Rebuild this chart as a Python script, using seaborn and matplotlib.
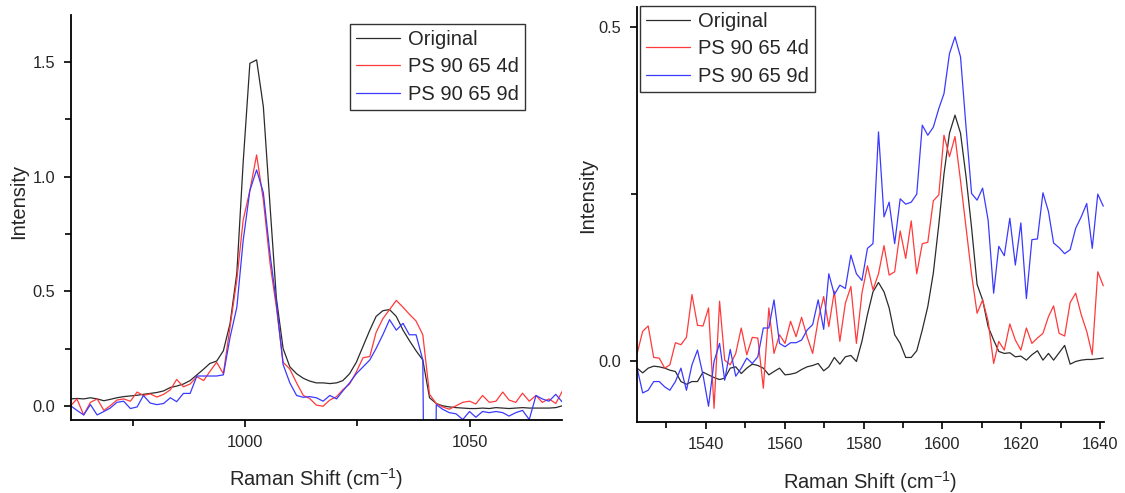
import numpy as np
import pandas as pd
import seaborn as sns
import matplotlib.pyplot as plt
from matplotlib.ticker import MultipleLocator, FormatStrFormatter

# DATA - left panel (ring breathing region)
shift_left = [961.2, 962.6, 964.1, 965.6, 967.1, 968.6, 970.0, 971.5, 973.0, 974.5,
              976.0, 977.4, 978.9, 980.4, 981.9, 983.4, 984.8, 986.3, 987.8, 989.3,
              990.8, 992.2, 993.7, 995.2, 996.7, 998.2, 999.6, 1001.1, 1002.6, 1004.1,
              1005.6, 1007.0, 1008.5, 1010.0, 1011.5, 1013.0, 1014.4, 1015.9, 1017.4, 1018.9,
              1020.4, 1021.8, 1023.3, 1024.8, 1026.3, 1027.8, 1029.2, 1030.7, 1032.2, 1033.7,
              1035.2, 1036.6, 1038.1, 1039.6, 1041.1, 1042.6, 1044.0, 1045.5, 1047.0, 1048.5,
              1050.0, 1051.4, 1052.9, 1054.4, 1055.9, 1057.4, 1058.8, 1060.3, 1061.8, 1063.3,
              1064.8, 1066.2, 1067.7, 1069.2, 1070.7]

orig_left = [0.030, 0.032, 0.030, 0.035, 0.030, 0.022, 0.028, 0.035, 0.040, 0.043,
             0.046, 0.050, 0.054, 0.058, 0.065, 0.080, 0.086, 0.095, 0.110, 0.135,
             0.160, 0.185, 0.195, 0.240, 0.360, 0.580, 1.060, 1.495, 1.510, 1.306,
             0.870, 0.470, 0.250, 0.170, 0.140, 0.120, 0.108, 0.100, 0.100, 0.097,
             0.100, 0.110, 0.140, 0.190, 0.260, 0.330, 0.390, 0.415, 0.420, 0.390,
             0.330, 0.285, 0.240, 0.200, 0.035, 0.010, 0.000, -0.005, -0.008, -0.010,
             -0.012, -0.012, -0.010, -0.012, -0.008, -0.010, -0.012, -0.010, -0.008, -0.010,
             -0.010, -0.010, -0.010, -0.008, 0.000]

ps4d_left = [0.000, 0.030, -0.040, 0.015, 0.030, -0.020, 0.000, 0.025, 0.030, 0.020,
             0.060, 0.045, 0.052, 0.038, 0.050, 0.070, 0.115, 0.083, 0.095, 0.127,
             0.110, 0.150, 0.190, 0.140, 0.346, 0.550, 0.810, 0.940, 1.095, 0.898,
             0.620, 0.430, 0.190, 0.160, 0.100, 0.045, 0.032, 0.003, -0.002, 0.025,
             0.040, 0.070, 0.095, 0.148, 0.210, 0.215, 0.320, 0.380, 0.420, 0.460,
             0.430, 0.400, 0.370, 0.310, 0.050, 0.010, -0.005, -0.015, 0.000, 0.015,
             0.020, 0.008, 0.045, 0.015, 0.020, 0.060, 0.025, 0.015, 0.055, 0.020,
             0.045, 0.015, 0.030, 0.010, 0.065]

ps9d_left = [0.000, -0.020, -0.040, 0.005, -0.040, -0.025, -0.010, 0.015, 0.020, -0.012,
             -0.005, 0.045, 0.012, 0.005, 0.010, 0.035, 0.018, 0.054, 0.054, 0.130,
             0.130, 0.130, 0.130, 0.135, 0.300, 0.430, 0.720, 0.940, 1.030, 0.930,
             0.660, 0.450, 0.180, 0.100, 0.045, 0.037, 0.040, 0.035, 0.020, 0.045,
             0.030, 0.065, 0.100, 0.140, 0.170, 0.200, 0.250, 0.310, 0.376, 0.330,
             0.360, 0.310, 0.310, 0.200, -3.000, 0.005, -0.015, -0.030, -0.035, -0.060,
             -0.025, -0.050, -0.025, -0.030, -0.025, -0.030, -0.045, -0.030, -0.020, -0.060,
             0.045, 0.030, 0.020, 0.050, 0.015]

# DATA - right panel (C=C stretching region)
shift_right = [1522.6, 1524.0, 1525.4, 1526.8, 1528.2, 1529.6, 1530.9, 1532.3, 1533.7, 1535.1,
               1536.5, 1537.9, 1539.3, 1540.7, 1542.1, 1543.5, 1544.8, 1546.2, 1547.6, 1549.0,
               1550.4, 1551.8, 1553.2, 1554.6, 1556.0, 1557.3, 1558.7, 1560.1, 1561.5, 1562.9,
               1564.3, 1565.7, 1567.1, 1568.5, 1569.9, 1571.2, 1572.6, 1574.0, 1575.4, 1576.8,
               1578.2, 1579.6, 1581.0, 1582.4, 1583.8, 1585.2, 1586.5, 1587.9, 1589.3, 1590.7,
               1592.1, 1593.5, 1594.9, 1596.3, 1597.7, 1599.1, 1600.4, 1601.8, 1603.2, 1604.6,
               1606.0, 1607.4, 1608.8, 1610.2, 1611.6, 1613.0, 1614.3, 1615.7, 1617.1, 1618.5,
               1619.9, 1621.3, 1622.7, 1624.1, 1625.5, 1626.9, 1628.2, 1629.6, 1631.0, 1632.4,
               1633.8, 1635.2, 1636.6, 1638.0, 1639.4, 1640.8]

orig_right = [-0.010, -0.017, -0.010, -0.007, -0.008, -0.010, -0.013, -0.015, -0.030, -0.034,
              -0.030, -0.030, -0.016, -0.020, -0.024, -0.027, -0.025, -0.010, -0.008, -0.018,
              -0.010, -0.004, -0.006, -0.010, -0.020, -0.015, -0.010, -0.020, -0.019, -0.017,
              -0.012, -0.008, -0.006, -0.003, -0.014, -0.008, 0.006, -0.004, 0.007, 0.009,
              0.000, 0.030, 0.070, 0.104, 0.118, 0.104, 0.080, 0.040, 0.027, 0.006,
              0.006, 0.016, 0.047, 0.082, 0.132, 0.205, 0.280, 0.341, 0.368, 0.341,
              0.276, 0.200, 0.115, 0.092, 0.052, 0.032, 0.015, 0.012, 0.013, 0.007,
              0.008, 0.002, 0.010, 0.016, 0.002, 0.012, 0.002, 0.013, 0.024, -0.004,
              0.000, 0.002, 0.003, 0.003, 0.004, 0.005]

ps4d_right = [0.012, 0.045, 0.053, 0.006, 0.005, -0.010, -0.005, 0.028, 0.025, 0.036,
              0.100, 0.054, 0.053, 0.080, -0.070, 0.090, 0.002, -0.005, 0.012, 0.050,
              0.010, 0.036, 0.035, -0.040, 0.080, 0.012, 0.040, 0.027, 0.060, 0.037,
              0.066, 0.037, 0.012, 0.062, 0.097, 0.052, 0.105, 0.030, 0.087, 0.112,
              0.027, 0.102, 0.143, 0.107, 0.131, 0.173, 0.129, 0.134, 0.195, 0.154,
              0.210, 0.131, 0.176, 0.178, 0.240, 0.249, 0.338, 0.306, 0.336, 0.270,
              0.200, 0.130, 0.072, 0.092, 0.060, -0.003, 0.030, 0.017, 0.056, 0.032,
              0.017, 0.050, 0.027, 0.035, 0.042, 0.067, 0.083, 0.042, 0.038, 0.088,
              0.102, 0.070, 0.045, 0.010, 0.134, 0.113]

ps9d_right = [-0.010, -0.047, -0.043, -0.030, -0.030, -0.038, -0.043, -0.030, -0.010, -0.043,
              -0.005, 0.017, -0.020, -0.067, 0.000, 0.027, -0.028, 0.018, -0.022, -0.010,
              0.005, -0.003, 0.007, 0.050, 0.050, 0.092, 0.027, 0.022, 0.028, 0.028,
              0.032, 0.047, 0.055, 0.092, 0.048, 0.131, 0.100, 0.114, 0.109, 0.159,
              0.131, 0.121, 0.169, 0.176, 0.343, 0.216, 0.238, 0.176, 0.243, 0.235,
              0.238, 0.250, 0.353, 0.338, 0.350, 0.378, 0.400, 0.460, 0.485, 0.455,
              0.350, 0.251, 0.241, 0.259, 0.211, 0.102, 0.172, 0.158, 0.214, 0.144,
              0.207, 0.094, 0.182, 0.183, 0.252, 0.224, 0.177, 0.170, 0.161, 0.167,
              0.199, 0.216, 0.236, 0.169, 0.250, 0.232]

labels = ["Original", "PS 90 65 4d", "PS 90 65 9d"]
colors = ["#2b2b2b", "#ff3a3a", "#3a3aff"]

# STYLE
sns.set_theme(style="ticks")
plt.rcParams["font.family"] = ["Liberation Sans", "DejaVu Sans"]
plt.rcParams["mathtext.fontset"] = "custom"
plt.rcParams["mathtext.rm"] = "Liberation Sans"
plt.rcParams["mathtext.default"] = "regular"

fig = plt.figure(figsize=(11.25, 4.93), dpi=100)
ax1 = fig.add_axes([0.0628, 0.1481, 0.4364, 0.8215])
ax2 = fig.add_axes([0.5660, 0.1446, 0.4154, 0.8418])


def draw_panel(ax, x, series):
    for y, lab, col in zip(series, labels, colors):
        df = pd.DataFrame({"shift": x, "intensity": y})
        sns.lineplot(data=df, x="shift", y="intensity", ax=ax, color=col, label=lab,
                     linewidth=0.9, estimator=None, sort=False)
    sns.despine(ax=ax)
    for side in ["left", "bottom"]:
        ax.spines[side].set_linewidth(1.3)
        ax.spines[side].set_color("black")
    ax.tick_params(which="major", direction="out", length=5, width=1.2,
                   labelsize=11.8, pad=6, color="black")
    ax.tick_params(which="minor", direction="out", length=4, width=1.2, color="black")
    ax.yaxis.set_major_formatter(FormatStrFormatter("%.1f"))
    ax.set_xlabel("Raman Shift (cm$^{-1}$)", fontsize=14.5)
    ax.set_ylabel("Intensity", fontsize=14.5)


draw_panel(ax1, shift_left, [orig_left, ps4d_left, ps9d_left])
ax1.set_xlim(961.2, 1070.5)
ax1.set_ylim(-0.062, 1.706)
ax1.xaxis.set_major_locator(MultipleLocator(50))
ax1.xaxis.set_minor_locator(MultipleLocator(25))
ax1.yaxis.set_major_locator(MultipleLocator(0.5))
ax1.yaxis.set_minor_locator(MultipleLocator(0.25))
ax1.xaxis.set_label_coords(0.5, -0.115)
ax1.yaxis.set_label_coords(-0.087, 0.54)

draw_panel(ax2, shift_right, [orig_right, ps4d_right, ps9d_right])
ax2.set_xlim(1522.5, 1641.0)
ax2.set_ylim(-0.09, 0.53)
ax2.xaxis.set_major_locator(MultipleLocator(20))
ax2.xaxis.set_minor_locator(MultipleLocator(10))
ax2.yaxis.set_major_locator(MultipleLocator(0.5))
ax2.yaxis.set_minor_locator(MultipleLocator(0.25))
ax2.xaxis.set_label_coords(0.5, -0.113)
ax2.yaxis.set_label_coords(-0.085, 0.546)

leg_kw = dict(loc="upper left", bbox_transform=fig.transFigure, borderaxespad=0,
              fontsize=14.5, frameon=True, fancybox=False, handlelength=2.2,
              handletextpad=0.4, labelspacing=0.42, borderpad=0.3)
for ax, anchor in [(ax1, (350 / 1125, 1 - 24 / 493)), (ax2, (640 / 1125, 1 - 6 / 493))]:
    leg = ax.legend(bbox_to_anchor=anchor, **leg_kw)
    leg.get_frame().set_edgecolor("#333333")
    leg.get_frame().set_linewidth(1.0)
    leg.get_frame().set_alpha(1)

fig.savefig("out.png", dpi=100)
